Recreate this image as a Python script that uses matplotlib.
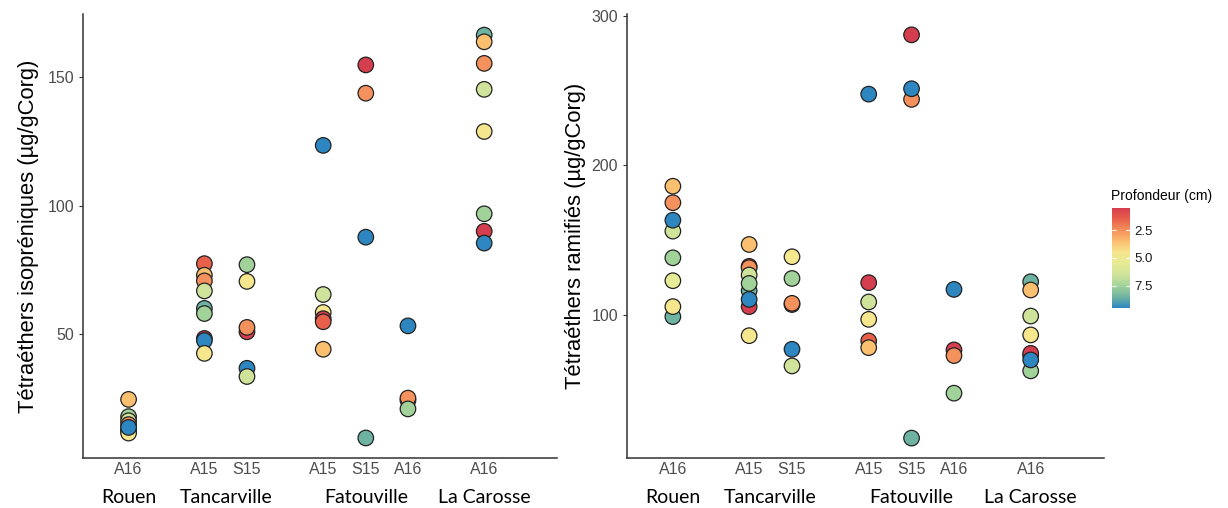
import matplotlib
matplotlib.use('Agg')
import matplotlib.pyplot as plt
import matplotlib.transforms as mtransforms
from matplotlib.colors import LinearSegmentedColormap, Normalize
from matplotlib.cm import ScalarMappable

# Samples (x axis) and their sites
samples = ['A16', 'A15', 'S15', 'A15', 'S15', 'A16', 'A16']
x_pos = [0, 1.78, 2.78, 4.57, 5.57, 6.56, 8.35]
sites = ['Rouen', 'Tancarville', 'Fatouville', 'La Carosse']
site_x = [0, 2.28, 5.57, 8.35]

# Depth (cm) of each slice, per sample
depths = [
    [3.5, 7.5, 6.5, 2.5, 8.5, 5.5, 4.5, 9.5],
    [1.5, 3.5, 2.5, 6.5, 8.5, 7.5, 0.5, 9.5, 4.5],
    [7.5, 4.5, 0.5, 2.5, 9.5, 6.5],
    [9.5, 6.5, 4.5, 0.5, 1.5, 3.5],
    [0.5, 2.5, 9.5, 8.5],
    [9.5, 0.5, 2.5, 7.5],
    [8.5, 3.5, 2.5, 6.5, 4.5, 7.5, 0.5, 9.5],
]

# Tetraethers isopreniques (ug/gCorg)
iso = [
    [24.6, 17.9, 16.3, 14.8, 12.8, 12.2, 11.5, 13.7],
    [77.4, 72.9, 70.7, 66.8, 60.0, 58.0, 48.3, 47.5, 42.5],
    [77.0, 70.5, 50.9, 52.6, 36.7, 33.5],
    [123.4, 65.4, 58.4, 56.0, 54.8, 44.1],
    [154.7, 143.7, 87.7, 9.6],
    [53.2, 24.2, 25.1, 20.9],
    [166.3, 163.7, 155.3, 145.2, 128.8, 96.8, 90.0, 85.4],
]

# Tetraethers ramifies (ug/gCorg)
ram = [
    [186.0, 138.2, 156.0, 175.0, 98.9, 122.9, 105.6, 163.3],
    [132.5, 147.1, 131.6, 126.7, 116.2, 121.1, 105.6, 110.4, 86.2],
    [124.4, 138.9, 107.0, 107.8, 77.1, 66.0],
    [247.5, 108.7, 97.1, 121.6, 82.7, 78.2],
    [287.1, 244.0, 251.1, 17.8],
    [117.1, 76.7, 72.9, 47.8],
    [122.2, 116.7, 73.0, 99.3, 86.7, 62.7, 74.4, 70.0],
]

# colour scale: red (surface) to blue (deep)
palette = ['#d53e4f', '#e9604a', '#f4925c', '#fbbf70', '#f6e68e',
           '#e6eb95', '#d0e39b', '#a2d39a', '#6fb4a2', '#2e86c1']
cmap = LinearSegmentedColormap.from_list('spectral_like', palette)
norm = Normalize(vmin=0.5, vmax=9.5)

plt.rcParams['font.family'] = ['Liberation Sans', 'DejaVu Sans']

fig = plt.figure(figsize=(12.28, 5.08), dpi=100)
ax1 = fig.add_axes([0.0676, 0.0984, 0.386, 0.874])
ax2 = fig.add_axes([0.5106, 0.0984, 0.3884, 0.874])


def draw(ax, values, ylabel, ylim, yticks):
    for xp, d, v in zip(x_pos, depths, values):
        ax.scatter([xp] * len(v), v, c=d, cmap=cmap, norm=norm, s=125,
                   edgecolors='#222222', linewidths=0.9, zorder=3)
    ax.set_xlim(-1.07, x_pos[-1] + 1.71)
    ax.set_ylim(*ylim)
    ax.set_yticks(yticks)
    ax.set_xticks(x_pos, samples)
    for s in ['top', 'right']:
        ax.spines[s].set_visible(False)
    for s in ['left', 'bottom']:
        ax.spines[s].set_color('#333333')
        ax.spines[s].set_linewidth(1.1)
    ax.tick_params(axis='y', labelsize=11.5, labelcolor='#4d4d4d',
                   color='#333333', length=3)
    ax.tick_params(axis='x', labelsize=11.5, labelcolor='#4d4d4d', length=0, pad=3)
    ax.set_ylabel(ylabel, fontsize=15.8, color='black')
    trans = mtransforms.blended_transform_factory(ax.transData, ax.transAxes)
    for name, sx in zip(sites, site_x):
        ax.text(sx, -0.088, name, transform=trans, ha='center', va='center',
                fontsize=14, family=['Lato', 'DejaVu Sans'], color='black')


draw(ax1, iso, 'Tétraéthers isopréniques (µg/gCorg)', (1.8, 174.5), [50, 100, 150])
draw(ax2, ram, 'Tétraéthers ramifiés (µg/gCorg)', (4.5, 301), [100, 200, 300])
ax1.yaxis.labelpad = 6
ax2.yaxis.labelpad = 4

# colour bar
cax = fig.add_axes([0.9055, 0.3937, 0.0147, 0.197])
sm = ScalarMappable(norm=norm, cmap=cmap)
cb = fig.colorbar(sm, cax=cax, ticks=[2.5, 5.0, 7.5])
cb.outline.set_visible(False)
cax.invert_yaxis()
cax.tick_params(direction='in', color='white', length=3, width=0.8,
                labelsize=9.5, labelcolor='#1a1a1a', pad=3, left=True)
cax.set_yticklabels(['2.5', '5.0', '7.5'])
cax.set_title('Profondeur (cm)', fontsize=10, loc='left', pad=6, x=-0.05)

fig.savefig('out.png', dpi=100)
